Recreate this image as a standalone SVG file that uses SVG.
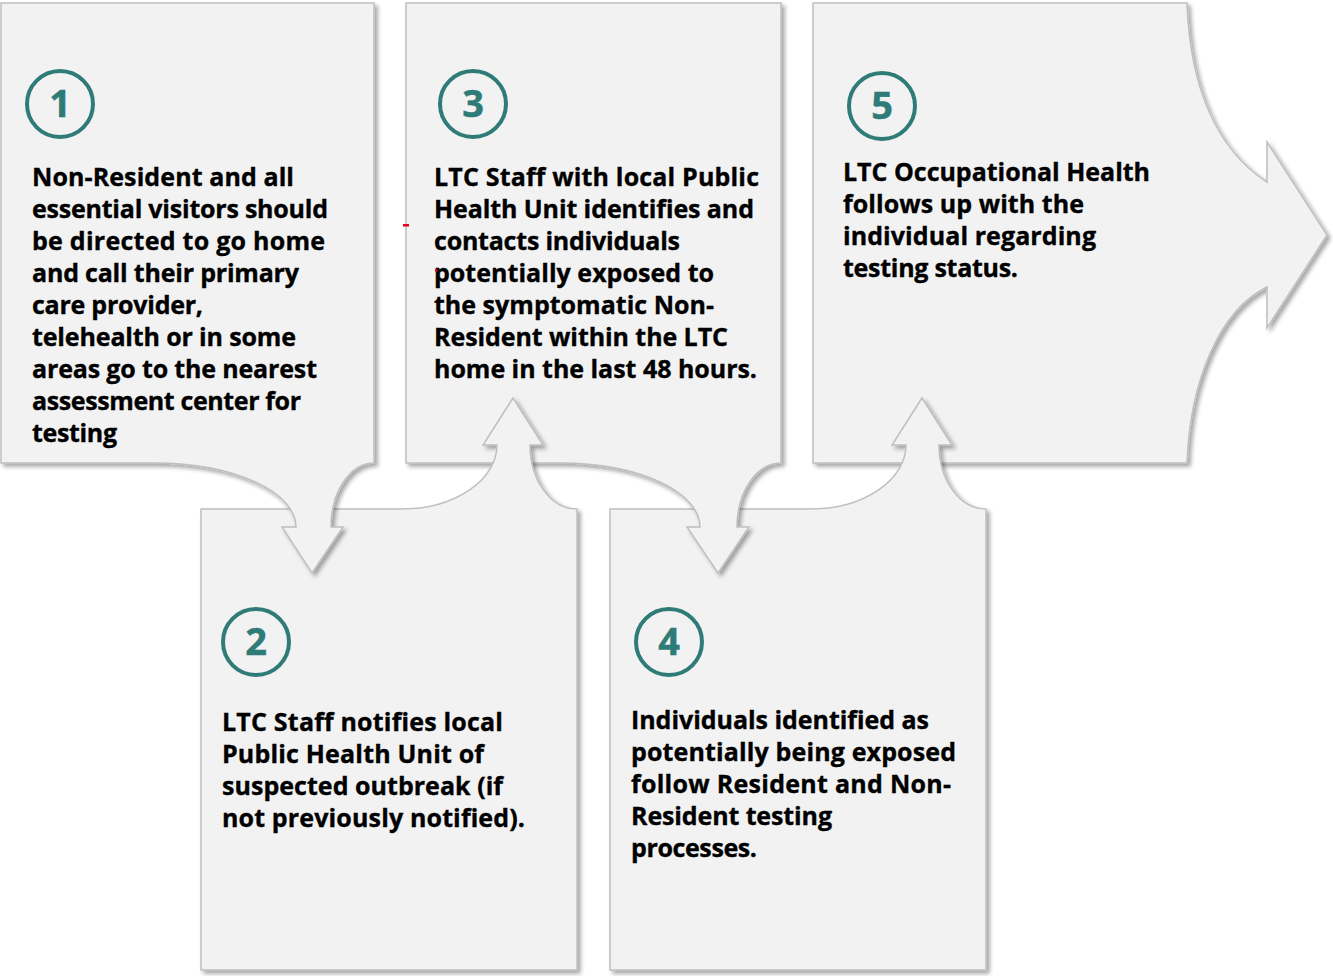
<svg xmlns="http://www.w3.org/2000/svg" width="1333" height="976" viewBox="0 0 1333 976">
<defs>
<filter id="sh" x="-5%" y="-5%" width="115%" height="115%">
<feGaussianBlur in="SourceAlpha" stdDeviation="2"/>
<feOffset dx="3" dy="3" result="b"/>
<feComponentTransfer><feFuncA type="linear" slope="0.35"/></feComponentTransfer>
<feMerge><feMergeNode/><feMergeNode in="SourceGraphic"/></feMerge>
</filter>
<style>
.box{fill:#f2f2f2;stroke:#bfbfbf;stroke-width:1.5;filter:url(#sh)}
.ring{fill:none;stroke:#2f7b77;stroke-width:4}
.num{font-family:"Open Sans","Noto Sans",sans-serif;font-weight:700;font-size:38px;fill:#2f7b77;stroke:#2f7b77;stroke-width:0.5;text-anchor:middle}
.t{font-family:"Open Sans","Noto Sans",sans-serif;font-weight:700;font-size:25px;fill:#000;stroke:#000;stroke-width:0.35}
</style>
</defs>
<rect width="1333" height="976" fill="#ffffff"/>
<g id="connectors"/>
<g id="step5">
<path class="box" d="M813,3 H1187 C1190,90 1218,150 1267,182 V142 L1327,235 L1267,328 V287 C1220,310 1190,380 1187,463 H813 Z"/>
<circle class="ring" cx="882" cy="106" r="33"/>
<text class="num" x="882" y="119">5</text>
<text class="t" lengthAdjust="spacingAndGlyphs">
<tspan x="843" y="181" textLength="307">LTC Occupational Health</tspan>
<tspan x="843" y="213" textLength="241">follows up with the</tspan>
<tspan x="843" y="245" textLength="253">individual regarding</tspan>
<tspan x="843" y="277" textLength="175">testing status.</tspan>
</text>
</g>
<g id="step4">
<path class="box" d="M610,509 H810 A96,64 0 0 0 906,445 H892 L922,398 L952,445 H939 A47,64 0 0 0 986,509 V970 H610 Z"/>
<circle class="ring" cx="669" cy="642" r="33"/>
<text class="num" x="669" y="655">4</text>
<text class="t" lengthAdjust="spacingAndGlyphs">
<tspan x="631" y="729" textLength="298">Individuals identified as</tspan>
<tspan x="631" y="761" textLength="325">potentially being exposed</tspan>
<tspan x="631" y="793" textLength="320">follow Resident and Non-</tspan>
<tspan x="631" y="825" textLength="201">Resident testing</tspan>
<tspan x="631" y="857" textLength="126">processes.</tspan>
</text>
</g>
<g id="step3">
<path class="box" d="M406,3 H781 V463 A44,64 0 0 0 737,527 H749 L718,573 L687,527 H700 A139,64 0 0 0 561,463 H406 Z"/>
<circle class="ring" cx="473" cy="104" r="33"/>
<text class="num" x="473" y="117">3</text>
<text class="t" lengthAdjust="spacingAndGlyphs">
<tspan x="434" y="186" textLength="325">LTC Staff with local Public</tspan>
<tspan x="434" y="218" textLength="320">Health Unit identifies and</tspan>
<tspan x="434" y="250" textLength="246">contacts individuals</tspan>
<tspan x="434" y="282" textLength="280">potentially exposed to</tspan>
<tspan x="434" y="314" textLength="280">the symptomatic Non-</tspan>
<tspan x="434" y="346" textLength="294">Resident within the LTC</tspan>
<tspan x="434" y="378" textLength="323">home in the last 48 hours.</tspan>
</text>
<rect x="403" y="224" width="6" height="2.5" fill="#e8001c"/>
<rect x="435" y="269" width="2.5" height="2.5" fill="#e8001c"/>
</g>
<g id="step2">
<path class="box" d="M201,509 H401 A96,64 0 0 0 497,445 H483 L513,398 L543,445 H530 A47,64 0 0 0 577,509 V970 H201 Z"/>
<circle class="ring" cx="256" cy="642" r="33"/>
<text class="num" x="256" y="655">2</text>
<text class="t" lengthAdjust="spacingAndGlyphs">
<tspan x="222" y="731" textLength="281">LTC Staff notifies local</tspan>
<tspan x="222" y="763" textLength="262">Public Health Unit of</tspan>
<tspan x="222" y="795" textLength="281">suspected outbreak (if</tspan>
<tspan x="222" y="827" textLength="303">not previously notified).</tspan>
</text>
</g>
<g id="step1">
<path class="box" d="M1,3 H374 V463 A43,64 0 0 0 331,527 H343 L312,573 L282,527 H296 A141,64 0 0 0 155,463 H1 Z"/>
<circle class="ring" cx="60" cy="104" r="33"/>
<text class="num" x="60" y="117">1</text>
<text class="t" lengthAdjust="spacingAndGlyphs">
<tspan x="32" y="186" textLength="262">Non-Resident and all</tspan>
<tspan x="32" y="218" textLength="296">essential visitors should</tspan>
<tspan x="32" y="250" textLength="293">be directed to go home</tspan>
<tspan x="32" y="282" textLength="267">and call their primary</tspan>
<tspan x="32" y="314" textLength="171">care provider,</tspan>
<tspan x="32" y="346" textLength="264">telehealth or in some</tspan>
<tspan x="32" y="378" textLength="285">areas go to the nearest</tspan>
<tspan x="32" y="410" textLength="269">assessment center for</tspan>
<tspan x="32" y="442" textLength="85">testing</tspan>
</text>
</g>
</svg>
